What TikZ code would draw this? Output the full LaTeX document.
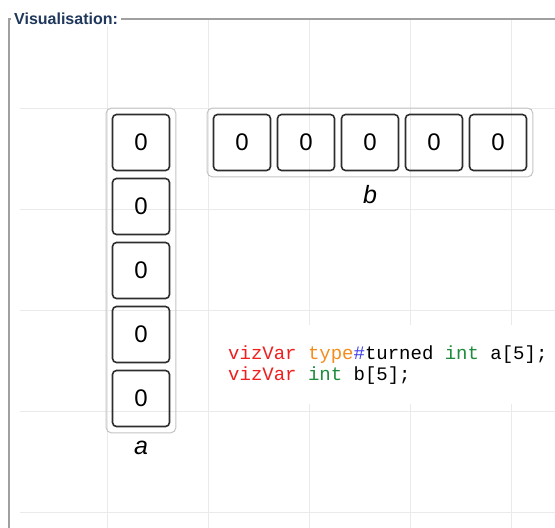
\documentclass[tikz,border=0pt]{standalone}
\usepackage{fontspec}
\setmainfont{Liberation Sans}
\setmonofont{Liberation Mono}
\usetikzlibrary{positioning,fit}

\definecolor{cgrid}{RGB}{234,234,234}
\definecolor{cframe}{RGB}{160,160,160}
\definecolor{ctitle}{RGB}{31,56,92}
\definecolor{ccell}{RGB}{45,45,45}
\definecolor{cbox}{RGB}{195,195,195}
\definecolor{ckey}{RGB}{240,30,30}
\definecolor{ctype}{RGB}{245,140,30}
\definecolor{chash}{RGB}{60,60,230}
\definecolor{cint}{RGB}{30,140,60}

\tikzset{
  cell/.style={draw=ccell, line width=1.6pt, rounded corners=4pt,
    minimum width=57pt, minimum height=56pt, inner sep=0pt,
    font=\fontsize{24}{24}\selectfont},
  arrbox/.style={draw=cbox, line width=1pt, rounded corners=5pt, inner sep=5.5pt},
  arrlabel/.style={font=\fontsize{25}{25}\selectfont\itshape, inner sep=0pt},
  gridline/.style={draw=cgrid, line width=1pt},
  codebox/.style={fill=white, align=left, inner xsep=16pt, inner ysep=20pt,
    font=\ttfamily\fontsize{19}{21}\selectfont},
}

\begin{document}
\begin{tikzpicture}[x=1pt, y=1pt, yscale=-1]
  \useasboundingbox (0,0) rectangle (555,528);

  % background grid
  \path[gridline] (107,20) -- (107,528) (208,20) -- (208,528)
    (309,20) -- (309,528) (410,20) -- (410,528) (511,20) -- (511,528);
  \path[gridline] (20,108) -- (555,108) (20,209) -- (555,209)
    (20,310) -- (555,310) (20,411) -- (555,411) (20,512) -- (555,512);

  % group box
  \draw[cframe, line width=1.4pt] (9,528) -- (9,19) -- (555,19);
  \node[anchor=west, fill=white, inner xsep=3pt, inner ysep=1pt, text=ctitle,
    font=\bfseries\fontsize{16}{16}\selectfont] (title) at (11,19) {Visualisation:};

  % array a (turned)
  \node[cell] (a0) at (141,142.5) {0};
  \node[cell] (a1) at (141,206.5) {0};
  \node[cell] (a2) at (141,270.5) {0};
  \node[cell] (a3) at (141,334.5) {0};
  \node[cell] (a4) at (141,398.5) {0};
  \node[arrbox, fit=(a0)(a4)] (arrA) {};
  \node[arrlabel, below=8pt of arrA] (labA) {a};

  % array b
  \node[cell] (b0) at (242,142.5) {0};
  \node[cell] (b1) at (306,142.5) {0};
  \node[cell] (b2) at (370,142.5) {0};
  \node[cell] (b3) at (434,142.5) {0};
  \node[cell] (b4) at (498,142.5) {0};
  \node[arrbox, fit=(b0)(b4)] (arrB) {};
  \node[arrlabel, below=8pt of arrB] (labB) {b};

  % source
  \node[codebox, anchor=base west] (code) at (212,380) {%
    \textcolor{ckey}{vizVar} \textcolor{ctype}{type}\textcolor{chash}{\#}turned
    \textcolor{cint}{int} a[5];\\
    \textcolor{ckey}{vizVar} \textcolor{cint}{int} b[5];};
\end{tikzpicture}
\end{document}
